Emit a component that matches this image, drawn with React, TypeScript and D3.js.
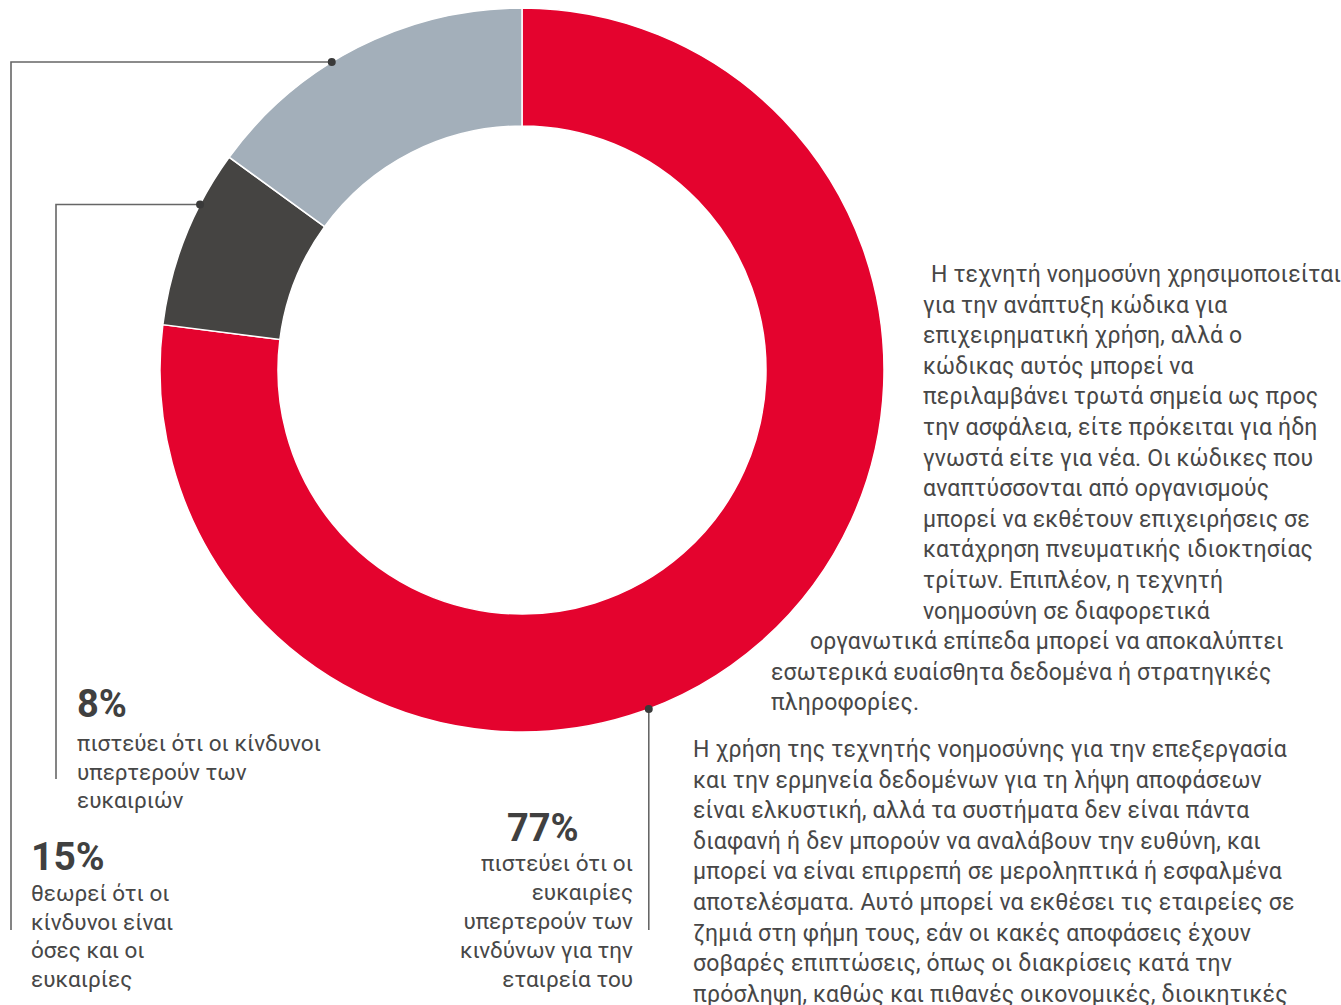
import React from "react";
import * as d3 from "d3";

// survey shares (%), clockwise from 12 o'clock
const categories = ["opportunities", "risks", "equal"];
const values = [77, 8, 15];
const colors = ["#e4032e", "#454442", "#a3afba"];
// where each leader line touches the ring (degrees, clockwise from top)
const anchorDeg = [159.5, 297.2, 328.3];

const pctLabels = ["77%", "8%", "15%"];
const redLines = ["πιστεύει ότι οι", "ευκαιρίες", "υπερτερούν των", "κινδύνων για την", "εταιρεία του"];
const darkLines = ["πιστεύει ότι οι κίνδυνοι", "υπερτερούν των", "ευκαιριών"];
const greyLines = ["θεωρεί ότι οι", "κίνδυνοι είναι", "όσες και οι", "ευκαιρίες"];

const para1 = [
  "Η τεχνητή νοημοσύνη χρησιμοποιείται",
  "για την ανάπτυξη κώδικα για",
  "επιχειρηματική χρήση, αλλά ο",
  "κώδικας αυτός μπορεί να",
  "περιλαμβάνει τρωτά σημεία ως προς",
  "την ασφάλεια, είτε πρόκειται για ήδη",
  "γνωστά είτε για νέα. Οι κώδικες που",
  "αναπτύσσονται από οργανισμούς",
  "μπορεί να εκθέτουν επιχειρήσεις σε",
  "κατάχρηση πνευματικής ιδιοκτησίας",
  "τρίτων. Επιπλέον, η τεχνητή",
  "νοημοσύνη σε διαφορετικά",
  "οργανωτικά επίπεδα μπορεί να αποκαλύπτει",
  "εσωτερικά ευαίσθητα δεδομένα ή στρατηγικές",
  "πληροφορίες.",
];
const para2 = [
  "Η χρήση της τεχνητής νοημοσύνης για την επεξεργασία",
  "και την ερμηνεία δεδομένων για τη λήψη αποφάσεων",
  "είναι ελκυστική, αλλά τα συστήματα δεν είναι πάντα",
  "διαφανή ή δεν μπορούν να αναλάβουν την ευθύνη, και",
  "μπορεί να είναι επιρρεπή σε μεροληπτικά ή εσφαλμένα",
  "αποτελέσματα. Αυτό μπορεί να εκθέσει τις εταιρείες σε",
  "ζημιά στη φήμη τους, εάν οι κακές αποφάσεις έχουν",
  "σοβαρές επιπτώσεις, όπως οι διακρίσεις κατά την",
  "πρόσληψη, καθώς και πιθανές οικονομικές, διοικητικές",
];

const W = 1341;
const H = 1005;
const cx = 522;
const cy = 370;
const outerR = 362;
const innerR = 244;
const font = "Roboto, 'Noto Sans', sans-serif";
const textCol = "#474747";
const numCol = "#404040";

export default function App() {
  const pie = d3.pie<number>().sort(null).value((d) => d).startAngle(0).endAngle(2 * Math.PI);
  const arcs = pie(values);
  const arc = d3.arc<d3.PieArcDatum<number>>().innerRadius(innerR).outerRadius(outerR);

  const anchor = (deg: number) => {
    const a = (deg * Math.PI) / 180;
    return [cx + outerR * Math.sin(a), cy - outerR * Math.cos(a)];
  };
  const [rx, ry] = anchor(anchorDeg[0]);
  const [dx, dy] = anchor(anchorDeg[1]);
  const [gx, gy] = anchor(anchorDeg[2]);

  const leaders = [
    `M${rx},${ry}V930`,
    `M${dx},${dy}H56V779`,
    `M${gx},${gy}H11V930`,
  ];
  const dots = [[rx, ry], [dx, dy], [gx, gy]];

  const lh = 28.6;
  const plh = 30.6;
  const subSize = 22.5;

  return (
    <svg
      width={W}
      height={H}
      style={{ position: "absolute", left: 0, top: 0, background: "#fff" }}
      fontFamily={font}
    >
      <g transform={`translate(${cx},${cy})`}>
        {arcs.map((a, i) => (
          <path key={categories[i]} d={arc(a) || ""} fill={colors[i]} stroke="#fff" strokeWidth={1.5} />
        ))}
      </g>

      {leaders.map((d, i) => (
        <path key={i} d={d} fill="none" stroke="#666" strokeWidth={1.6} />
      ))}
      {dots.map(([x, y], i) => (
        <circle key={i} cx={x} cy={y} r={4} fill="#3a3a3a" />
      ))}

      {/* 77% */}
      <text x={507} y={841} fontSize={38} fontWeight="bold" fill={numCol}>{pctLabels[0]}</text>
      {redLines.map((t, i) => (
        <text key={i} x={633} y={871 + i * 29} fontSize={subSize} fill={textCol} textAnchor="end">{t}</text>
      ))}

      {/* 8% */}
      <text x={77} y={717} fontSize={38} fontWeight="bold" fill={numCol}>{pctLabels[1]}</text>
      {darkLines.map((t, i) => (
        <text key={i} x={77} y={751 + i * lh} fontSize={subSize} fill={textCol}>{t}</text>
      ))}

      {/* 15% */}
      <text x={31} y={870} fontSize={39} fontWeight="bold" fill={numCol}>{pctLabels[2]}</text>
      {greyLines.map((t, i) => (
        <text key={i} x={31} y={901 + i * lh} fontSize={subSize} fill={textCol}>{t}</text>
      ))}

      {para1.map((t, i) => (
        <text
          key={i}
          x={i === 0 ? 931 : i < 12 ? 923 : i === 12 ? 810 : 771}
          y={282 + i * plh}
          fontSize={23}
          letterSpacing={0.15}
          fill={textCol}
        >
          {t}
        </text>
      ))}
      {para2.map((t, i) => (
        <text key={i} x={693} y={757 + i * plh} fontSize={23} letterSpacing={0.2} fill={textCol}>{t}</text>
      ))}
    </svg>
  );
}
